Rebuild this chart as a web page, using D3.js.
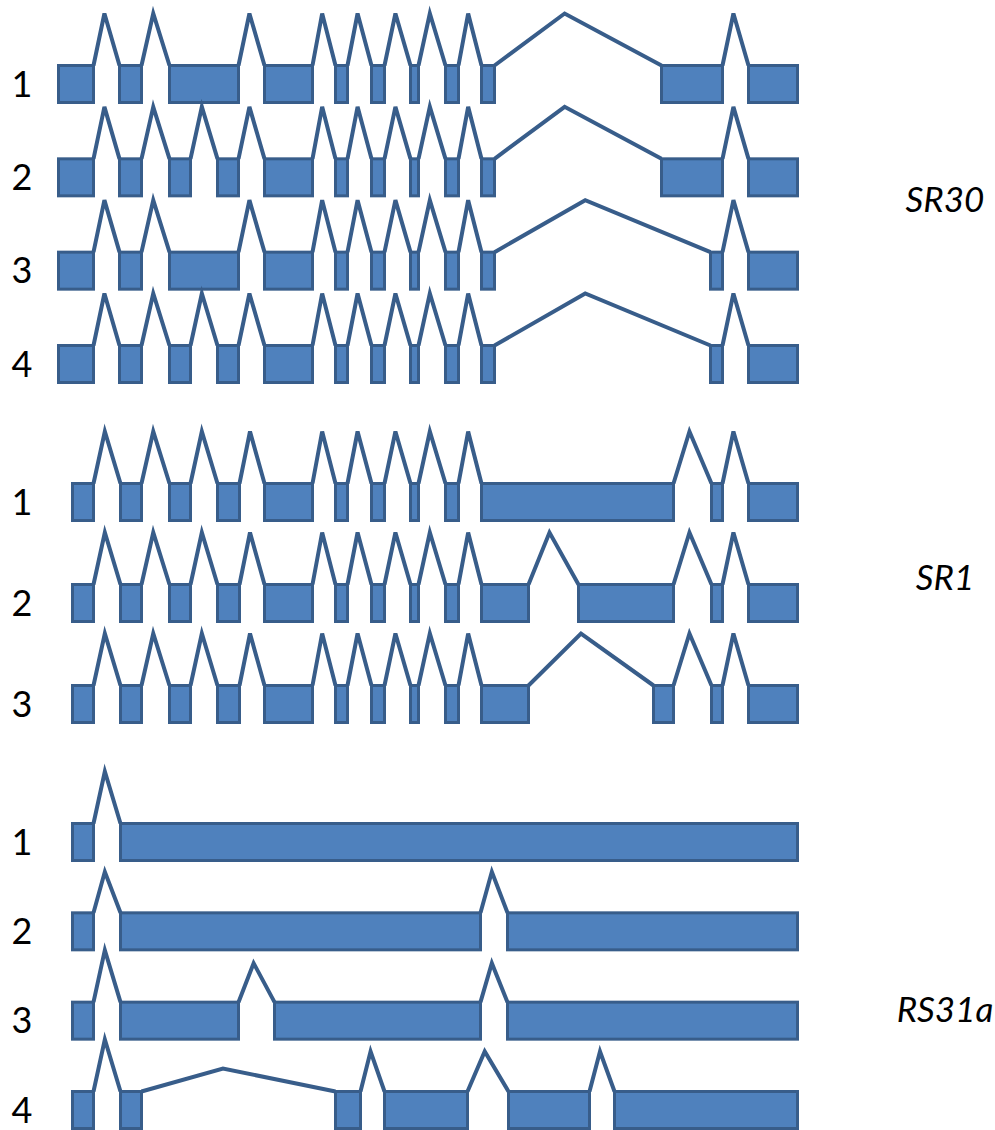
<!DOCTYPE html>
<html lang="en">
<head>
    <meta charset="UTF-8">
    <title>Splice isoforms SR30 / SR1 / RS31a</title>
    <style>
        body { margin: 0; background: #fff; }
        svg { display: block; }
        .num { font-family: Lato, "Open Sans", sans-serif; font-size: 36px; fill: #000; }
        .gene { font-family: Lato, "Open Sans", sans-serif; font-size: 35px; font-style: italic; fill: #000; }
    </style>
</head>
<body>
    <div id="chart"></div>

    <script src="https://d3js.org/d3.v7.min.js"></script>
    <script>
        const w = 995;
        const h = 1130;

        // gene names, top to bottom
        const genes = ["SR30", "SR1", "RS31a"];

        // exon [start, end] per isoform, in transcript coordinates
        const sr30Isoforms = [
            [[57,95],[118,143],[168,240],[263,314],[334,349],[370,386],[409,420],[444,460],[480,496],[660,724],[747,799]],
            [[57,95],[118,143],[168,192],[216,240],[263,314],[334,349],[370,386],[409,420],[444,460],[480,496],[660,724],[747,799]],
            [[57,95],[118,143],[168,240],[263,314],[334,349],[370,386],[409,420],[444,460],[480,496],[709,724],[747,799]],
            [[57,95],[118,143],[168,192],[216,240],[263,314],[334,349],[370,386],[409,420],[444,460],[480,496],[709,724],[747,799]]
        ];
        const sr1Isoforms = [
            [[71,95],[119,143],[168,192],[216,241],[263,314],[334,349],[370,386],[409,420],[444,460],[480,675],[710,724],[747,799]],
            [[71,95],[119,143],[168,192],[216,241],[263,314],[334,349],[370,386],[409,420],[444,460],[480,530],[577,675],[710,724],[747,799]],
            [[71,95],[119,143],[168,192],[216,241],[263,314],[334,349],[370,386],[409,420],[444,460],[480,530],[652,675],[710,724],[747,799]]
        ];
        const rs31aIsoforms = [
            [[71,95],[119,799]],
            [[71,95],[119,482],[506,799]],
            [[71,95],[119,240],[273,482],[506,799]],
            [[71,95],[119,143],[334,362],[383,469],[507,591],[613,799]]
        ];
        const isoforms = [sr30Isoforms, sr1Isoforms, rs31aIsoforms];

        // layout: vertical band of each gene block, label baseline, intron apex heights
        const blockRanges = [[65.5, 345.5], [483.5, 685.5], [823.5, 1091.5]];
        const geneLabelY = [212, 590, 1022];
        const TALL = 52;
        const apexHeights = {
            RS31a: [[TALL], [41, 41], [TALL, 39, 39], [TALL, 23, 40, 40, 40]]
        };
        const exonH = 37;
        const apexFrac = 0.42;  // apex sits a bit left of the intron middle

        const fill = "#4F81BD";
        const edge = "#385D8A";

        const x = d3.scaleLinear().domain([0, w]).range([0, w]);

        const svg = d3.select("#chart")
            .append("svg")
            .attr("width", w)
            .attr("height", h);

        genes.forEach((gene, gi) => {
            const rows = isoforms[gi];
            const y = d3.scalePoint()
                .domain(d3.range(rows.length))
                .range(blockRanges[gi]);

            const g = svg.append("g").attr("class", "gene-block");

            rows.forEach((exons, ri) => {
                const top = y(ri);
                const row = g.append("g").attr("class", "isoform");

                // introns: peaked line from one exon end to the next exon start
                const introns = d3.range(exons.length - 1).map(k => {
                    const a = x(exons[k][1]) - 1.5;
                    const b = x(exons[k + 1][0]) + 1.5;
                    const hts = apexHeights[gene];
                    const ht = hts ? hts[ri][k] : TALL;
                    return [[a, top], [a + (b - a) * apexFrac, top - ht], [b, top]];
                });

                row.selectAll("path.intron")
                    .data(introns)
                    .enter()
                    .append("path")
                    .attr("class", "intron")
                    .attr("d", d3.line())
                    .attr("fill", "none")
                    .attr("stroke", edge)
                    .attr("stroke-width", 4);

                row.selectAll("rect")
                    .data(exons)
                    .enter()
                    .append("rect")
                    .attr("x", d => x(d[0]) + 1.5)
                    .attr("y", top)
                    .attr("width", d => x(d[1]) - x(d[0]) - 3)
                    .attr("height", exonH)
                    .attr("fill", fill)
                    .attr("stroke", edge)
                    .attr("stroke-width", 3);

                row.append("text")
                    .attr("class", "num")
                    .attr("x", 22)
                    .attr("y", top + 31)
                    .attr("text-anchor", "middle")
                    .text(ri + 1);
            });

            g.append("text")
                .attr("class", "gene")
                .attr("x", 945)
                .attr("y", geneLabelY[gi])
                .attr("text-anchor", "middle")
                .text(gene);
        });
    </script>
</body>
</html>
